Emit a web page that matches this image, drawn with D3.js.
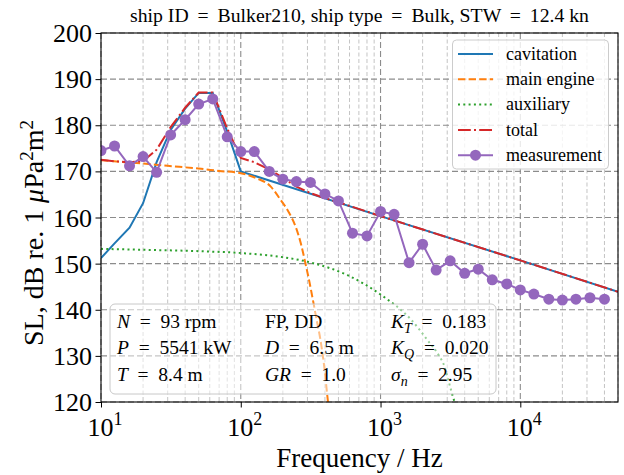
<!DOCTYPE html>
<meta charset="utf-8">
<head>
  <title>Source level spectrum</title>
</head>

<style>
  body {
    margin: 0;
    background: #fff;
  }
  svg text {
    font-family: "Liberation Serif", "DejaVu Serif", serif;
    fill: #000;
  }
</style>

<body>
<svg id="chart" width="624" height="475"></svg>

<script src="https://cdnjs.cloudflare.com/ajax/libs/d3/7.8.5/d3.min.js"></script>
<script>
  var titleText = "ship ID \u2009=\u2009 Bulker210, ship type \u2009=\u2009 Bulk, STW \u2009=\u2009 12.4 kn";

  // third-octave band centres and the measured source level
  var bandFreqs = [10, 12.5, 16, 20, 25, 31.5, 40, 50, 63, 80, 100, 125, 160, 200, 250, 315, 400, 500, 630, 800,
    1000, 1250, 1600, 2000, 2500, 3150, 4000, 5000, 6300, 8000, 10000, 12500, 16000, 20000, 25000, 31500, 40000];
  var measured = [174.5, 175.5, 171.2, 173.2, 169.8, 177.9, 181.2, 184.6, 185.7, 177.5, 174.3, 174.3, 170.0, 168.3,
    167.8, 167.6, 165.1, 163.6, 156.6, 156.0, 161.3, 160.7, 150.2, 154.2, 148.6, 150.6, 147.9, 148.8, 146.5, 145.6,
    144.3, 143.4, 142.3, 142.1, 142.3, 142.6, 142.3];

  // model components
  var cavFreqs = [10, 12.5, 16, 20, 25, 31.5, 40, 50, 63, 80, 100, 1000, 10000, 50000];
  var cavLevel = [151.2, 154.4, 157.8, 163.1, 172.0, 179.0, 183.6, 187.0, 187.0, 178.6, 170.0, 160.3, 150.7, 143.9];

  var meFreqs = [10, 15, 20, 30, 50, 70, 100, 130, 164, 193, 220, 247, 270, 290, 310, 325, 350, 372, 395, 417, 430];
  var meLevel = [172.4, 172.0, 171.7, 171.2, 170.6, 170.1, 169.6, 168.5, 166.7, 163.8, 161.2, 158.0, 154.2, 150.1,
    146.0, 142.8, 137.6, 133.4, 127.8, 121.1, 117.5];

  var auxFreqs = [10, 20, 50, 100, 200, 330, 580, 1000, 1660, 2170, 2600, 2860, 3050, 3250, 3480];
  var auxLevel = [153.2, 153.0, 152.7, 152.3, 151.4, 150.1, 147.5, 143.3, 137.8, 133.4, 130.2, 127.8, 124.8, 121.8, 118.8];

  var totalFreqs = [10, 12.5, 16, 20, 25, 31.5, 40, 50, 63, 80, 100, 125, 160, 200, 250, 315, 400, 500, 1000, 10000, 50000];
  var totalLevel = [172.5, 172.2, 172.0, 172.2, 174.7, 179.6, 183.8, 187.1, 187.1, 179.3, 172.9, 172.0, 170.4, 168.6,
    166.7, 165.3, 164.2, 163.3, 160.3, 150.7, 143.9];

  var yTicks = [120, 130, 140, 150, 160, 170, 180, 190, 200];
  var xDecades = [10, 100, 1000, 10000];
  var xExponents = ["1", "2", "3", "4"];

  // propeller / ship parameters, three columns
  var eq = "\u2002=\u2002";
  var infoRows = [
    [[["N", "i"], [eq + "93 rpm"]], [["FP, DD"]], [["K", "i"], ["T", "sub"], [eq + "0.183"]]],
    [[["P", "i"], [eq + "5541 kW"]], [["D", "i"], [eq + "6.5 m"]], [["K", "i"], ["Q", "sub"], [eq + "0.020"]]],
    [[["T", "i"], [eq + "8.4 m"]], [["GR", "i"], [eq + "1.0"]], [["σ", "i"], ["n", "sub"], [eq + "2.95"]]]
  ];

  var series = [
    { name: "cavitation", f: cavFreqs, v: cavLevel, color: "#1f77b4", dash: null, curve: d3.curveLinear },
    { name: "main engine", f: meFreqs, v: meLevel, color: "#ff7f0e", dash: "7.4,3.2", curve: d3.curveMonotoneX },
    { name: "auxiliary", f: auxFreqs, v: auxLevel, color: "#2ca02c", dash: "2,3.3", curve: d3.curveMonotoneX },
    { name: "total", f: totalFreqs, v: totalLevel, color: "#d62728", dash: "12.8,3.2,2,3.2", curve: d3.curveLinear },
    { name: "measurement", f: bandFreqs, v: measured, color: "#9467bd", dash: null, curve: d3.curveLinear, marker: true }
  ];

  var plotL = 101, plotR = 618, plotT = 33, plotB = 402;

  var x = d3.scaleLog().domain([10, 5e4]).range([plotL, plotR]);
  var y = d3.scaleLinear().domain([120, 200]).range([plotB, plotT]);

  var svg = d3.select("#chart");

  svg.append("defs").append("clipPath").attr("id", "plotClip")
    .append("rect").attr("x", plotL).attr("y", plotT).attr("width", plotR - plotL).attr("height", plotB - plotT);

  // grid
  var grid = svg.append("g");
  var minorTicks = x.ticks().filter(function(d) { return xDecades.indexOf(d) < 0; });
  grid.selectAll("line.minor").data(minorTicks).enter().append("line")
    .attr("x1", function(d) { return x(d); }).attr("x2", function(d) { return x(d); })
    .attr("y1", plotT).attr("y2", plotB)
    .attr("stroke", "#bdbdbd").attr("stroke-width", 0.9).attr("stroke-dasharray", "4,2.5");
  grid.selectAll("line.vmajor").data(xDecades).enter().append("line")
    .attr("x1", function(d) { return x(d); }).attr("x2", function(d) { return x(d); })
    .attr("y1", plotT).attr("y2", plotB)
    .attr("stroke", "#8c8c8c").attr("stroke-width", 1.1).attr("stroke-dasharray", "6,3");
  grid.selectAll("line.hmajor").data(yTicks).enter().append("line")
    .attr("x1", plotL).attr("x2", plotR)
    .attr("y1", function(d) { return y(d); }).attr("y2", function(d) { return y(d); })
    .attr("stroke", "#8c8c8c").attr("stroke-width", 1.1).attr("stroke-dasharray", "6,3");

  // curves
  var plot = svg.append("g").attr("clip-path", "url(#plotClip)");
  series.forEach(function(s) {
    var pts = s.f.map(function(f, i) { return [f, s.v[i]]; });
    var line = d3.line().x(function(d) { return x(d[0]); }).y(function(d) { return y(d[1]); }).curve(s.curve);
    plot.append("path").datum(pts)
      .attr("d", line)
      .attr("fill", "none")
      .attr("stroke", s.color)
      .attr("stroke-width", 2)
      .attr("stroke-dasharray", s.dash);
    if (s.marker) {
      plot.selectAll("circle.m").data(pts).enter().append("circle")
        .attr("cx", function(d) { return x(d[0]); })
        .attr("cy", function(d) { return y(d[1]); })
        .attr("r", 5.5)
        .attr("fill", s.color);
    }
  });

  // axes
  var xAxis = svg.append("g").attr("transform", "translate(0," + plotB + ")");
  xAxis.call(d3.axisBottom(x).tickValues(minorTicks).tickSize(3).tickFormat(""));
  xAxis.call(d3.axisBottom(x).tickValues(xDecades).tickSize(5.5).tickFormat(""));
  xAxis.selectAll(".domain").remove();
  xAxis.selectAll("line").attr("stroke", "#000").attr("stroke-width", 1);

  var yAxis = svg.append("g").attr("transform", "translate(" + plotL + ",0)");
  yAxis.call(d3.axisLeft(y).tickValues(yTicks).tickSize(5.5).tickFormat(""));
  yAxis.selectAll(".domain").remove();
  yAxis.selectAll("line").attr("stroke", "#000").attr("stroke-width", 1);

  svg.append("rect").attr("x", plotL).attr("y", plotT).attr("width", plotR - plotL).attr("height", plotB - plotT)
    .attr("fill", "none").attr("stroke", "#000").attr("stroke-width", 1.1);

  // tick labels
  svg.selectAll("text.ylab").data(yTicks).enter().append("text")
    .attr("x", plotL - 9).attr("y", function(d) { return y(d); })
    .attr("dy", "0.35em").attr("text-anchor", "end")
    .attr("font-size", 26)
    .text(function(d) { return d; });

  xDecades.forEach(function(d, i) {
    var t = svg.append("text").attr("x", x(d) + 4).attr("y", 436).attr("text-anchor", "middle").attr("font-size", 26);
    t.append("tspan").text("10");
    t.append("tspan").attr("dy", -11).attr("font-size", 18).text(xExponents[i]);
  });

  // axis titles
  svg.append("text").attr("x", (plotL + plotR) / 2).attr("y", 467).attr("text-anchor", "middle")
    .attr("font-size", 27).text("Frequency / Hz");

  var yl = svg.append("text").attr("transform", "translate(43,233) rotate(-90)")
    .attr("text-anchor", "middle").attr("font-size", 28);
  yl.append("tspan").text("SL, dB re. 1 ");
  yl.append("tspan").attr("font-style", "italic").text("μ");
  yl.append("tspan").text("Pa");
  yl.append("tspan").attr("dy", -10).attr("font-size", 19).text("2");
  yl.append("tspan").attr("dy", 10).text("m");
  yl.append("tspan").attr("dy", -10).attr("font-size", 19).text("2");

  svg.append("text").attr("x", (plotL + plotR) / 2).attr("y", 22).attr("text-anchor", "middle")
    .attr("font-size", 18).attr("textLength", 459).attr("lengthAdjust", "spacingAndGlyphs")
    .text(titleText);

  // legend
  var lg = svg.append("g");
  lg.append("rect").attr("x", 452.5).attr("y", 40).attr("width", 156).attr("height", 129).attr("rx", 4)
    .attr("fill", "#fff").attr("fill-opacity", 0.8).attr("stroke", "#cccccc").attr("stroke-width", 1);
  series.forEach(function(s, i) {
    var ly = 54 + i * 25.3;
    lg.append("line").attr("x1", 458).attr("x2", 493).attr("y1", ly).attr("y2", ly)
      .attr("stroke", s.color).attr("stroke-width", 2).attr("stroke-dasharray", s.dash);
    if (s.marker) {
      lg.append("circle").attr("cx", 475.5).attr("cy", ly).attr("r", 5.5).attr("fill", s.color);
    }
    lg.append("text").attr("x", 506).attr("y", ly).attr("dy", "0.32em").attr("font-size", 18).text(s.name);
  });

  // parameter box
  var box = svg.append("g");
  box.append("rect").attr("x", 110).attr("y", 304).attr("width", 386).attr("height", 90).attr("rx", 5)
    .attr("fill", "#fff").attr("fill-opacity", 0.5).attr("stroke", "#c8c8c8").attr("stroke-width", 1);
  var colX = [117, 265, 391];
  infoRows.forEach(function(row, r) {
    row.forEach(function(cell, c) {
      var t = box.append("text").attr("x", colX[c]).attr("y", 328 + r * 26.3).attr("font-size", 19.5);
      cell.forEach(function(part, k) {
        var sp = t.append("tspan").text(part[0]);
        if (part[1] === "i") sp.attr("font-style", "italic");
        if (part[1] === "sub") sp.attr("font-style", "italic").attr("font-size", 14).attr("dy", 5);
        if (k > 0 && cell[k - 1][1] === "sub") sp.attr("dy", -5);
      });
    });
  });
</script>
</body>
</html>
